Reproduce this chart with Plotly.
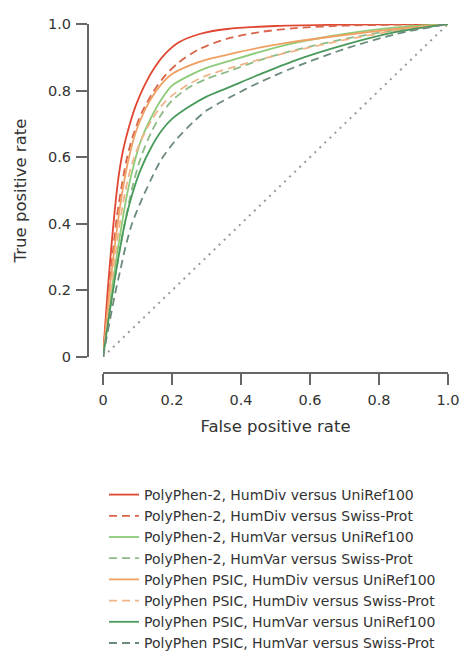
import plotly.graph_objects as go

W, H = 459, 668

# ---- data ----
series_names = [
    "PolyPhen-2, HumDiv versus UniRef100",
    "PolyPhen-2, HumDiv versus Swiss-Prot",
    "PolyPhen-2, HumVar versus UniRef100",
    "PolyPhen-2, HumVar versus Swiss-Prot",
    "PolyPhen PSIC, HumDiv versus UniRef100",
    "PolyPhen PSIC, HumDiv versus Swiss-Prot",
    "PolyPhen PSIC, HumVar versus UniRef100",
    "PolyPhen PSIC, HumVar versus Swiss-Prot",
]

fpr_pp2_div_uni = [0, .008, .016, .025, .035, .045, .058, .075, .095, .12, .15, .18, .22, .28, .36, .50, .70, 1]
tpr_pp2_div_uni = [0, .12, .23, .34, .45, .54, .62, .69, .755, .815, .87, .91, .945, .97, .985, .994, .998, 1]

fpr_pp2_div_sp = [0, .01, .02, .03, .04, .055, .07, .087, .113, .145, .18, .22, .28, .36, .45, .55, .70, .85, 1]
tpr_pp2_div_sp = [0, .12, .23, .33, .42, .52, .60, .665, .735, .795, .845, .885, .925, .956, .975, .987, .995, .998, 1]

fpr_pp2_var_uni = [0, .01, .02, .035, .05, .07, .09, .11, .14, .17, .20, .25, .30, .37, .45, .55, .70, .85, 1]
tpr_pp2_var_uni = [0, .08, .16, .27, .37, .49, .58, .65, .72, .775, .815, .845, .868, .89, .915, .942, .97, .99, 1]

fpr_pp2_var_sp = [0, .01, .02, .035, .05, .065, .085, .11, .14, .17, .20, .25, .30, .37, .45, .55, .70, .85, 1]
tpr_pp2_var_sp = [0, .07, .14, .24, .33, .41, .51, .60, .675, .73, .77, .81, .835, .86, .89, .92, .955, .982, 1]

fpr_psic_div_uni = [0, .01, .02, .03, .045, .06, .08, .10, .136, .17, .20, .25, .30, .37, .45, .55, .70, .85, 1]
tpr_psic_div_uni = [0, .11, .21, .30, .42, .52, .62, .69, .77, .82, .85, .875, .893, .91, .928, .946, .967, .985, 1]

fpr_psic_div_sp = [0, .01, .02, .035, .05, .065, .084, .11, .14, .17, .20, .25, .30, .37, .45, .55, .70, .85, 1]
tpr_psic_div_sp = [0, .09, .18, .30, .41, .50, .58, .65, .71, .755, .785, .82, .845, .868, .892, .918, .952, .98, 1]

fpr_psic_var_uni = [0, .01, .02, .035, .05, .065, .085, .11, .14, .17, .20, .25, .30, .37, .45, .55, .70, .85, 1]
tpr_psic_var_uni = [0, .07, .14, .24, .33, .41, .49, .565, .63, .68, .715, .752, .782, .812, .847, .888, .937, .976, 1]

fpr_psic_var_sp = [0, .01, .02, .035, .05, .065, .084, .107, .14, .17, .214, .264, .30, .368, .45, .55, .70, .85, 1]
tpr_psic_var_sp = [0, .055, .11, .19, .26, .33, .40, .46, .535, .595, .655, .708, .74, .78, .823, .868, .925, .97, 1]

diag_x = [0, 1]
diag_y = [0, 1]

tick_vals = [0, 0.2, 0.4, 0.6, 0.8, 1.0]
tick_text = ["0", "0.2", "0.4", "0.6", "0.8", "1.0"]

# ---- styles ----
series_x = [fpr_pp2_div_uni, fpr_pp2_div_sp, fpr_pp2_var_uni, fpr_pp2_var_sp,
            fpr_psic_div_uni, fpr_psic_div_sp, fpr_psic_var_uni, fpr_psic_var_sp]
series_y = [tpr_pp2_div_uni, tpr_pp2_div_sp, tpr_pp2_var_uni, tpr_pp2_var_sp,
            tpr_psic_div_uni, tpr_psic_div_sp, tpr_psic_var_uni, tpr_psic_var_sp]
colors = ["#e04630", "#d8654a", "#8ccb78", "#8cbb86",
          "#f0a062", "#f1b488", "#479a5a", "#6c8c7a"]
dashes = ["solid", "8px,5px", "solid", "8px,5px",
          "solid", "8px,5px", "solid", "8px,5px"]

FONT = "DejaVu Sans"
TXT = "#333333"
AX = "#666666"

fig = go.Figure()

fig.add_trace(go.Scatter(x=diag_x, y=diag_y, mode="lines", showlegend=False,
                         line=dict(color="#999999", width=2, dash="2px,5px"),
                         hoverinfo="skip"))

for name, xs, ys, c, d in zip(series_names, series_x, series_y, colors, dashes):
    fig.add_trace(go.Scatter(x=xs, y=ys, mode="lines", name=name,
                             line=dict(color=c, width=1.8, dash=d, shape="spline", smoothing=0.8)))

# target positions (px from top-left of the page)
x0, x1 = 103, 448
y_top, y_bot = 24, 357
xaxis_line_y = 373
yaxis_line_x = 88
legend_left = 104
legend_top = 479

fig.update_layout(
    width=W, height=H,
    margin=dict(l=0, r=0, t=0, b=0, autoexpand=False),
    paper_bgcolor="white", plot_bgcolor="white",
    font=dict(family=FONT, color=TXT, size=14),
    xaxis=dict(
        domain=[x0 / W, x1 / W], range=[0, 1],
        anchor="free", position=(H - xaxis_line_y) / H,
        showgrid=False, zeroline=False,
        showline=True, linecolor=AX, linewidth=2,
        ticks="outside", ticklen=11, tickwidth=2, tickcolor=AX,
        tickvals=tick_vals, ticktext=tick_text, ticklabeloverflow="allow",
        ticklabelstandoff=3,
        tickfont=dict(family=FONT, size=14.5, color=TXT),
        title=dict(text="False positive rate", font=dict(family=FONT, size=16.5, color=TXT), standoff=12),
    ),
    yaxis=dict(
        domain=[(H - y_bot) / H, (H - y_top) / H], range=[0, 1],
        anchor="free", position=yaxis_line_x / W,
        showgrid=False, zeroline=False,
        showline=True, linecolor=AX, linewidth=2,
        ticks="outside", ticklen=11, tickwidth=2, tickcolor=AX,
        tickvals=tick_vals, ticktext=tick_text, ticklabeloverflow="allow",
        ticklabelstandoff=2,
        tickfont=dict(family=FONT, size=14.5, color=TXT),
        title=dict(text="True positive rate", font=dict(family=FONT, size=16.5, color=TXT), standoff=16),
    ),
    legend=dict(
        x=legend_left / W, xanchor="left", y=(H - legend_top) / H, yanchor="top",
        bgcolor="rgba(0,0,0,0)", font=dict(family=FONT, size=14, color=TXT),
        traceorder="normal",
    ),
)

# remove the default page margin so the 459x668 figure fills the window exactly
fig.write_html("out.html",
               config={"displayModeBar": False},
               post_script="document.body.style.margin='0';document.body.style.overflow='hidden';")
